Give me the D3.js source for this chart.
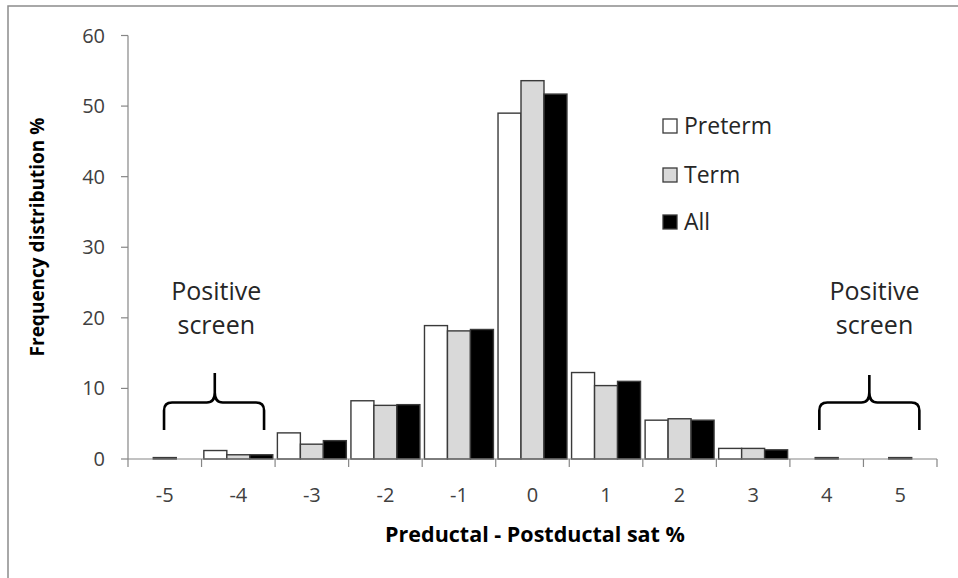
<!DOCTYPE html>
<html><head><meta charset="utf-8">
<script src="https://cdn.jsdelivr.net/npm/d3@7"></script>
<style>
html,body{margin:0;padding:0;background:#fff;}
svg{display:block;font-family:"Open Sans","Noto Sans",sans-serif;}
</style></head>
<body>
<svg id="c" width="958" height="578"></svg>
<script>
const categories = ["-5","-4","-3","-2","-1","0","1","2","3","4","5"];
const seriesNames = ["Preterm","Term","All"];
const preterm = [0, 1.2, 3.7, 8.25, 18.9, 49.0, 12.25, 5.5, 1.5, 0, 0];
const term    = [0.2, 0.6, 2.1, 7.6, 18.15, 53.6, 10.4, 5.7, 1.5, 0.2, 0.2];
const all     = [0, 0.6, 2.6, 7.7, 18.35, 51.7, 11.0, 5.5, 1.3, 0, 0];
const yTicks = [0,10,20,30,40,50,60];
const fills = {"Preterm":"#ffffff","Term":"#d9d9d9","All":"#000000"};
const valuesBySeries = {"Preterm":preterm,"Term":term,"All":all};

const svg = d3.select("#c");
// outer chart border
svg.append("rect").attr("x",8).attr("y",6).attr("width",1200).attr("height",1200)
  .attr("fill","none").attr("stroke","#8c8c8c").attr("stroke-width",1.5);

const x = d3.scaleBand().domain(categories).range([128, 937]).paddingInner(0).paddingOuter(0);
const x1 = d3.scaleBand().domain(seriesNames).range([0, x.bandwidth()]).paddingInner(0).paddingOuter(0.1);
const y = d3.scaleLinear().domain([0,60]).range([459, 35.5]);

// bars
const g = svg.append("g");
seriesNames.forEach(s=>{
  g.selectAll(null).data(valuesBySeries[s].map((v,i)=>({c:categories[i],v})))
   .enter().append("rect")
   .attr("x",d=>x(d.c)+x1(s))
   .attr("width",x1.bandwidth())
   .attr("y",d=>y(d.v))
   .attr("height",d=>y(0)-y(d.v))
   .attr("fill",fills[s])
   .attr("stroke","#3a3a3a").attr("stroke-width",1.4);
});

// y axis
const axCol = "#868686";
svg.append("line").attr("x1",128).attr("x2",128).attr("y1",y(60)).attr("y2",y(0)).attr("stroke",axCol).attr("stroke-width",1.2);
yTicks.forEach(t=>{
  svg.append("line").attr("x1",121).attr("x2",128).attr("y1",y(t)).attr("y2",y(t)).attr("stroke",axCol).attr("stroke-width",1.2);
  svg.append("text").attr("x",105).attr("y",y(t)+7).attr("text-anchor","end")
    .attr("font-size",20).attr("fill","#404040").text(t);
});
// x axis
svg.append("line").attr("x1",128).attr("x2",937).attr("y1",y(0)).attr("y2",y(0)).attr("stroke",axCol).attr("stroke-width",1.2);
const bounds = categories.map(c=>x(c)).concat([x(categories[categories.length-1])+x.bandwidth()]);
bounds.forEach(b=>{
  svg.append("line").attr("x1",b).attr("x2",b).attr("y1",y(0)).attr("y2",y(0)+8).attr("stroke",axCol).attr("stroke-width",1.2);
});
categories.forEach(c=>{
  svg.append("text").attr("x",x(c)+x.bandwidth()/2).attr("y",502).attr("text-anchor","middle")
    .attr("font-size",20).attr("fill","#404040").text(c);
});

// axis titles
svg.append("text").attr("x",535).attr("y",542).attr("text-anchor","middle")
  .attr("font-size",21.5).attr("font-weight","bold").attr("fill","#000").text("Preductal - Postductal sat %");
svg.append("text").attr("transform","translate(44,237) rotate(-90)").attr("text-anchor","middle")
  .attr("font-size",19).attr("font-weight","bold").attr("fill","#000").text("Frequency distribution %");

// legend
const legY = [126,175,222];
seriesNames.forEach((s,i)=>{
  svg.append("rect").attr("x",663).attr("y",legY[i]-7).attr("width",14).attr("height",14)
    .attr("fill",fills[s]).attr("stroke","#3a3a3a").attr("stroke-width",1.3);
  svg.append("text").attr("x",684).attr("y",legY[i]+8).attr("font-size",23).attr("fill","#262626").text(s);
});

// annotations: braces + text
function brace(x0,x2,xm,yLeg,yBar,yTip){
  const r=8;
  const p = d3.path();
  p.moveTo(x0,yLeg); p.lineTo(x0,yBar+r); p.quadraticCurveTo(x0,yBar,x0+r,yBar);
  p.lineTo(xm-r,yBar); p.quadraticCurveTo(xm,yBar,xm,yBar-r-2); p.lineTo(xm,yTip);
  p.moveTo(xm,yBar-r-2); p.quadraticCurveTo(xm,yBar,xm+r,yBar);
  p.lineTo(x2-r,yBar); p.quadraticCurveTo(x2,yBar,x2,yBar+r); p.lineTo(x2,yLeg);
  svg.append("path").attr("d",p.toString()).attr("fill","none").attr("stroke","#000").attr("stroke-width",2.6);
}
const bw = x.bandwidth();
brace(x("-5")+bw*0.49, x("-4")+bw*0.85, x("-5")+bw*1.18, y(4.1), y(8.0), y(12.2));
brace(x("4")+bw*0.4, x("5")+bw*0.76, x("4")+bw*1.08, y(4.1), y(8.0), y(11.9));

function label(cx){
  svg.append("text").attr("x",cx).attr("y",300).attr("text-anchor","middle").attr("font-size",25).attr("fill","#262626").text("Positive");
  svg.append("text").attr("x",cx).attr("y",334).attr("text-anchor","middle").attr("font-size",25).attr("fill","#262626").text("screen");
}
label(x("-5")+bw*1.2);
label(x("4")+bw*1.15);
</script>
</body></html>
